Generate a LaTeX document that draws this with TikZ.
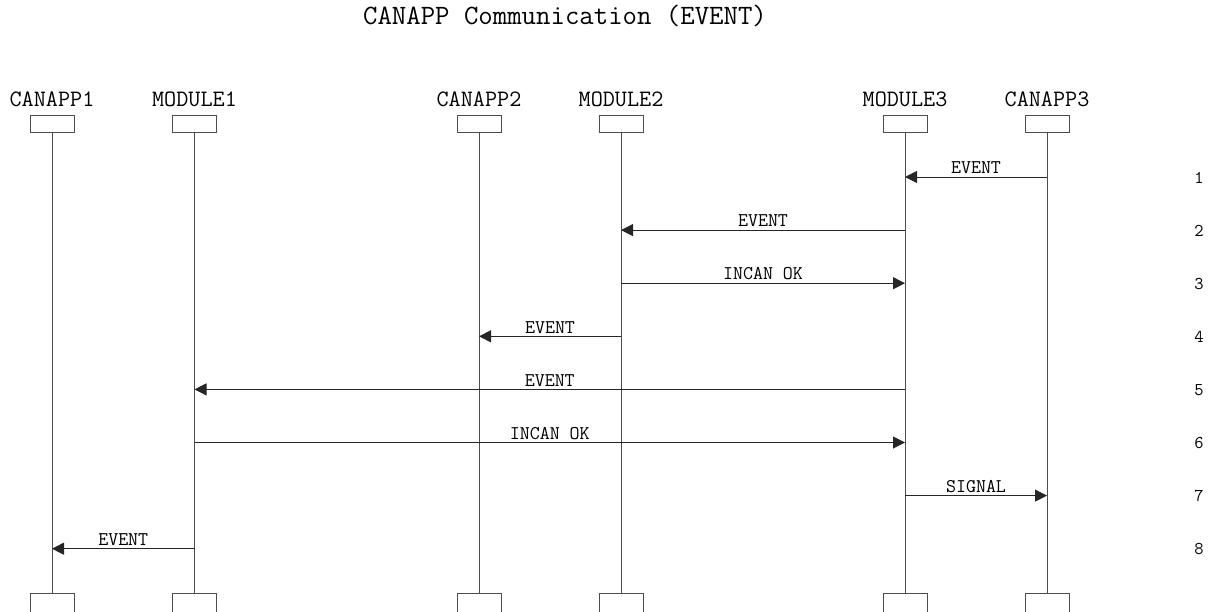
\documentclass[tikz,border=0pt]{standalone}
\usetikzlibrary{arrows.meta}

\tikzset{
  lifebox/.style={draw=black!70, line width=1pt, minimum width=44pt, minimum height=17pt, inner sep=0pt, anchor=north},
  lifeline/.style={draw=black!70, line width=1pt},
  msg/.style={draw=black!85, line width=1pt, -{Triangle[length=12pt,width=12pt]}},
  msglabel/.style={font=\ttfamily\fontsize{19.4}{19.4}\selectfont, above=1pt, inner sep=1.5pt},
  headlabel/.style={font=\ttfamily\fontsize{23.5}{23.5}\selectfont, anchor=base, inner sep=0pt},
  steplabel/.style={font=\ttfamily\fontsize{18}{18}\selectfont, anchor=base, inner sep=0pt},
}

\begin{document}
\begin{tikzpicture}[x=1pt,y=-1pt]
		\useasboundingbox (0,0) rectangle (1210,611);
		
		% Title
		\node[font=\ttfamily\fontsize{28}{28}\selectfont, anchor=base, inner sep=0pt] (title) at (565,24) {CANAPP Communication (EVENT)};
		
		% Lifelines
		\foreach \name/\i/\x in {CANAPP1/1/52, MODULE1/2/194.5, CANAPP2/3/479, MODULE2/4/621, MODULE3/5/905, CANAPP3/6/1047} {
			\node[headlabel] (head\i) at (\x,106) {\name};
			\node[lifebox] (top\i) at (\x,115) {};
			\node[lifebox, minimum height=24pt] (bot\i) at (\x,593) {};
			\draw[lifeline] (top\i) -- (bot\i);
			\foreach \k in {1,...,8} {
				\coordinate (p\i-\k) at (\x,{177+(\k-1)*53.1});
			}
		}
		
		% Messages
		\foreach \k/\from/\to/\lbl in {1/6/5/EVENT, 2/5/4/EVENT, 3/4/5/INCAN OK, 4/4/3/EVENT,
			5/5/2/EVENT, 6/2/5/INCAN OK, 7/5/6/SIGNAL, 8/2/1/EVENT} {
			\draw[msg] (p\from-\k) -- node[msglabel] (lbl\k) {\lbl} (p\to-\k);
			\node[steplabel] (num\k) at (1199,{183+(\k-1)*53.1}) {\k};
		}
\end{tikzpicture}
\end{document}
